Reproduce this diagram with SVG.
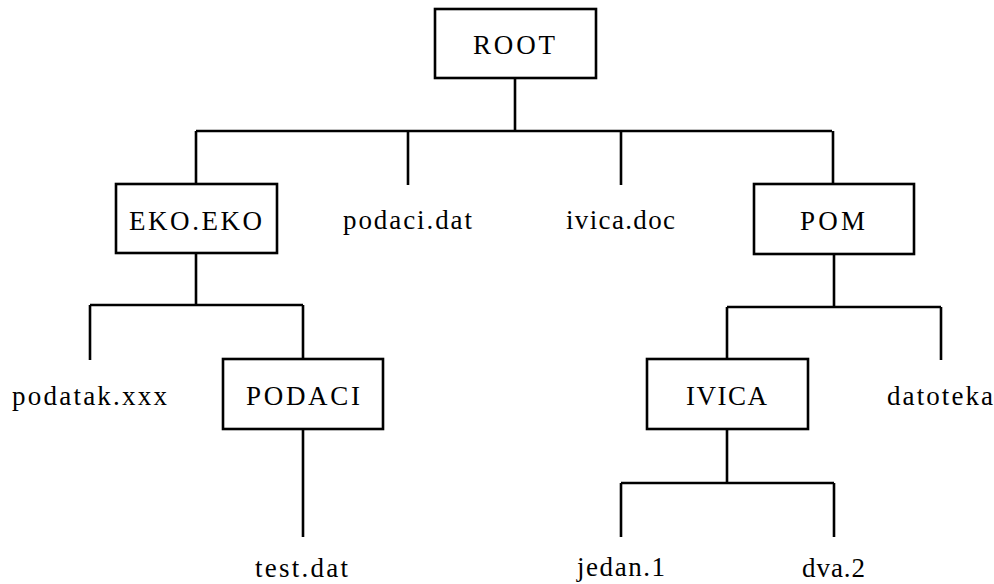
<svg xmlns="http://www.w3.org/2000/svg" width="994" height="584" viewBox="0 0 994 584">
<style>
.box{fill:#fff;stroke:#000;stroke-width:2.6}
.ln{fill:none;stroke:#000;stroke-width:2.6;stroke-linecap:butt}
.t{font-family:'Liberation Serif','DejaVu Serif','Times New Roman',serif;font-size:27px;fill:#000}
</style>
<rect width="994" height="584" fill="#fff"/>
<g id="connectors">
<path class="ln" d="M515,78V131M196,131H832M196,131V184M408,131V185M621,131V185M833,131V184"/>
<path class="ln" d="M196,253V305M90,305H303M90,305V360M303,305V359M303,429V537"/>
<path class="ln" d="M834,254V307M727,307H941M727,307V359M941,307V360M727,429V483M621,483H834M621,483V537M834,483V537"/>
</g>
<g id="root"><rect class="box" x="435" y="9" width="161" height="69"/><text class="t" font-family="Liberation Serif, DejaVu Serif, serif" x="473" y="54" textLength="82" lengthAdjust="spacing">ROOT</text></g>
<g id="eko"><rect class="box" x="116" y="184" width="161" height="69"/><text class="t" font-family="Liberation Serif, DejaVu Serif, serif" x="129" y="230" textLength="133" lengthAdjust="spacing">EKO.EKO</text></g>
<g id="podacidat"><text class="t" font-family="Liberation Serif, DejaVu Serif, serif" x="343" y="229" textLength="129" lengthAdjust="spacing">podaci.dat</text></g>
<g id="ivicadoc"><text class="t" font-family="Liberation Serif, DejaVu Serif, serif" x="566" y="229" textLength="109" lengthAdjust="spacing">ivica.doc</text></g>
<g id="pom"><rect class="box" x="754" y="184" width="160" height="70"/><text class="t" font-family="Liberation Serif, DejaVu Serif, serif" x="800" y="230" textLength="65" lengthAdjust="spacing">POM</text></g>
<g id="podatak"><text class="t" font-family="Liberation Serif, DejaVu Serif, serif" x="12" y="405" textLength="155" lengthAdjust="spacing">podatak.xxx</text></g>
<g id="podaci"><rect class="box" x="223" y="359" width="160" height="70"/><text class="t" font-family="Liberation Serif, DejaVu Serif, serif" x="246" y="405" textLength="114" lengthAdjust="spacing">PODACI</text></g>
<g id="ivica"><rect class="box" x="647" y="359" width="161" height="70"/><text class="t" font-family="Liberation Serif, DejaVu Serif, serif" x="686" y="405" textLength="81" lengthAdjust="spacing">IVICA</text></g>
<g id="datoteka"><text class="t" font-family="Liberation Serif, DejaVu Serif, serif" x="887" y="405" textLength="106" lengthAdjust="spacing">datoteka</text></g>
<g id="testdat"><text class="t" font-family="Liberation Serif, DejaVu Serif, serif" x="255" y="577" textLength="93" lengthAdjust="spacing">test.dat</text></g>
<g id="jedan"><text class="t" font-family="Liberation Serif, DejaVu Serif, serif" x="577" y="576" textLength="88" lengthAdjust="spacing">jedan.1</text></g>
<g id="dva"><text class="t" font-family="Liberation Serif, DejaVu Serif, serif" x="802" y="577" textLength="63" lengthAdjust="spacing">dva.2</text></g>
</svg>
